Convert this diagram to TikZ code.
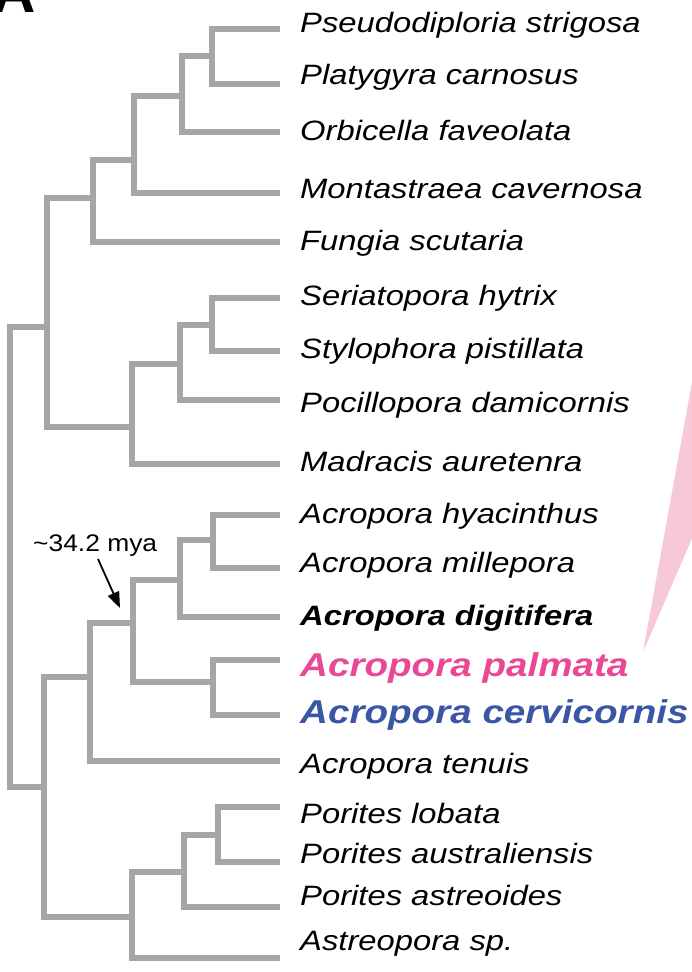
\documentclass[tikz,border=0pt]{standalone}
\usepackage{fontspec}
\setmainfont{Liberation Sans}
\newfontfamily\labfont[FakeStretch=1.17]{Liberation Sans}
\newfontfamily\bigfont[FakeStretch=1.17]{Liberation Sans}
\newfontfamily\myafont[FakeStretch=1.1]{Liberation Sans}
\usetikzlibrary{arrows.meta}
\definecolor{treegray}{RGB}{166,166,166}
\definecolor{palmpink}{RGB}{233,72,148}
\definecolor{cervblue}{RGB}{58,86,165}
\definecolor{wedgepink}{RGB}{246,200,218}
\begin{document}
\begin{tikzpicture}[x=1pt,y=-1pt,
  branch/.style={draw=treegray, line width=6pt, line join=miter},
  leaf/.style={anchor=base west, inner sep=0pt, font=\labfont\fontsize{28}{30}\selectfont\itshape},
  bigleaf/.style={anchor=base west, inner sep=0pt, font=\bigfont\fontsize{33}{36}\selectfont\bfseries\itshape},
  agelabel/.style={anchor=base west, inner sep=0pt, font=\myafont\fontsize{24}{26}\selectfont},
  panel/.style={anchor=base east, inner sep=0pt, font=\fontsize{60}{60}\selectfont\bfseries}]
\useasboundingbox (0,0) rectangle (691,972);

% pink wedge
\fill[wedgepink] (643,652) -- (700,338) -- (700,520) -- cycle;

% panel letter (cut off at the top edge, as in the reference)
\node[panel] (A) at (36,12) {A};

% leaf tips
\coordinate (l1) at (280,29);
\coordinate (l2) at (280,84);
\coordinate (l3) at (280,132);
\coordinate (l4) at (280,193);
\coordinate (l5) at (280,242);
\coordinate (l6) at (280,298);
\coordinate (l7) at (280,351);
\coordinate (l8) at (280,400);
\coordinate (l9) at (280,464);
\coordinate (l10) at (280,515);
\coordinate (l11) at (280,568);
\coordinate (l12) at (280,617);
\coordinate (l13) at (280,660);
\coordinate (l14) at (280,715);
\coordinate (l15) at (280,761);
\coordinate (l16) at (280,807);
\coordinate (l17) at (280,862);
\coordinate (l18) at (280,907);
\coordinate (l19) at (280,958);

% internal nodes
\coordinate (a1) at (212,56);
\coordinate (a2) at (182,96);
\coordinate (a3) at (134,160);
\coordinate (a4) at (93,198);
\coordinate (b1) at (212,325);
\coordinate (b2) at (180,364);
\coordinate (b3) at (132,427);
\coordinate (c) at (47,327);
\coordinate (d1) at (213,540);
\coordinate (d2) at (180,580);
\coordinate (d3) at (213,682);
\coordinate (d4) at (133,623);
\coordinate (d5) at (90,677);
\coordinate (e1) at (218,835);
\coordinate (e2) at (184,872);
\coordinate (e3) at (132,917);
\coordinate (f) at (44,787);
\coordinate (r) at (10,557);

% branches
\draw[branch] (a1) |- (l1);
\draw[branch] (a1) |- (l2);
\draw[branch] (a2) |- (a1);
\draw[branch] (a2) |- (l3);
\draw[branch] (a3) |- (a2);
\draw[branch] (a3) |- (l4);
\draw[branch] (a4) |- (a3);
\draw[branch] (a4) |- (l5);
\draw[branch] (b1) |- (l6);
\draw[branch] (b1) |- (l7);
\draw[branch] (b2) |- (b1);
\draw[branch] (b2) |- (l8);
\draw[branch] (b3) |- (b2);
\draw[branch] (b3) |- (l9);
\draw[branch] (c) |- (a4);
\draw[branch] (c) |- (b3);
\draw[branch] (d1) |- (l10);
\draw[branch] (d1) |- (l11);
\draw[branch] (d2) |- (d1);
\draw[branch] (d2) |- (l12);
\draw[branch] (d3) |- (l13);
\draw[branch] (d3) |- (l14);
\draw[branch] (d4) |- (d2);
\draw[branch] (d4) |- (d3);
\draw[branch] (d5) |- (d4);
\draw[branch] (d5) |- (l15);
\draw[branch] (e1) |- (l16);
\draw[branch] (e1) |- (l17);
\draw[branch] (e2) |- (e1);
\draw[branch] (e2) |- (l18);
\draw[branch] (e3) |- (e2);
\draw[branch] (e3) |- (l19);
\draw[branch] (f) |- (d5);
\draw[branch] (f) |- (e3);
\draw[branch] (r) |- (c);
\draw[branch] (r) |- (f);

% labels
\node[leaf] (t1) at (300,32) {Pseudodiploria strigosa};
\node[leaf] (t2) at (300,84) {Platygyra carnosus};
\node[leaf] (t3) at (300,140) {Orbicella faveolata};
\node[leaf] (t4) at (300,198) {Montastraea cavernosa};
\node[leaf] (t5) at (300,250) {Fungia scutaria};
\node[leaf] (t6) at (300,305) {Seriatopora hytrix};
\node[leaf] (t7) at (300,358) {Stylophora pistillata};
\node[leaf] (t8) at (300,412) {Pocillopora damicornis};
\node[leaf] (t9) at (300,471) {Madracis auretenra};
\node[leaf] (t10) at (300,523) {Acropora hyacinthus};
\node[leaf] (t11) at (300,572) {Acropora millepora};
\node[leaf, font=\labfont\fontsize{28}{30}\selectfont\bfseries\itshape] (t12) at (300,625) {Acropora digitifera};
\node[bigleaf, text=palmpink] (t13) at (300,676) {Acropora palmata};
\node[bigleaf, text=cervblue] (t14) at (300,723) {Acropora cervicornis};
\node[leaf] (t15) at (300,773) {Acropora tenuis};
\node[leaf] (t16) at (300,823) {Porites lobata};
\node[leaf] (t17) at (300,863) {Porites australiensis};
\node[leaf] (t18) at (300,905) {Porites astreoides};
\node[leaf] (t19) at (300,950) {Astreopora sp.};

% divergence time annotation
\node[agelabel] (mya) at (33,551) {\textasciitilde34.2 mya};
\coordinate (arrstart) at (98,559);
\coordinate (arrtip) at (120,608);
\draw[line width=1.8pt, -{Triangle[length=16pt,width=12pt]}] (arrstart) -- (arrtip);
\end{tikzpicture}
\end{document}
